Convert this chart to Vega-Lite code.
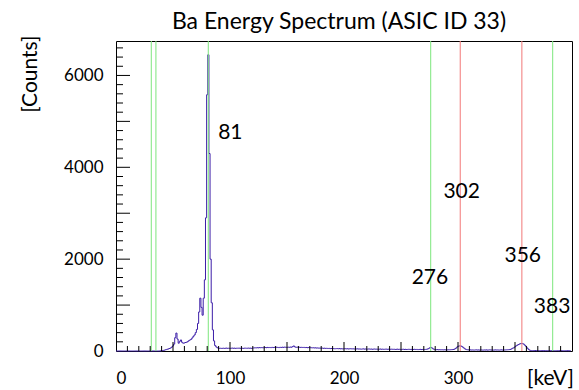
{
"$schema": "https://vega.github.io/schema/vega-lite/v6.json",
"width": 456, "height": 310,
"autosize": "none",
"padding": {"left": 116, "top": 41, "right": 7, "bottom": 39},
"background": "white",
"title": {"text": "Ba Energy Spectrum (ASIC ID 33)", "font": "Lato", "fontSize": 23, "fontWeight": "normal", "color": "#000", "anchor": "middle", "frame": "group", "dx": -5, "dy": 30, "offset": 8, "baseline": "bottom"},
"config": {
  "view": {"stroke": "#000", "strokeWidth": 1},
  "axis": {"grid": false, "domain": false, "labelFont": "Lato", "titleFont": "Lato", "labelColor": "#000", "titleColor": "#000", "labelFontSize": 17, "titleFontSize": 21, "titleFontWeight": "normal"}
},
"resolve": {"axis": {"x": "independent", "y": "independent"}},
"layer": [
{
  "data": {"values": [
{"e":0,"c":0},{"e":1,"c":0},{"e":2,"c":0},{"e":3,"c":0},{"e":4,"c":0},{"e":5,"c":0},{"e":6,"c":0},{"e":7,"c":0},{"e":8,"c":0},{"e":9,"c":0},
{"e":10,"c":0},{"e":11,"c":0},{"e":12,"c":0},{"e":13,"c":0},{"e":14,"c":0},{"e":15,"c":0},{"e":16,"c":0},{"e":17,"c":0},{"e":18,"c":0},{"e":19,"c":0},
{"e":20,"c":0},{"e":21,"c":0},{"e":22,"c":0},{"e":23,"c":0},{"e":24,"c":0},{"e":25,"c":0},{"e":26,"c":0},{"e":27,"c":0},{"e":28,"c":0},{"e":29,"c":0},
{"e":30,"c":0},{"e":31,"c":0},{"e":32,"c":0},{"e":33,"c":0},{"e":34,"c":0},{"e":35,"c":0},{"e":36,"c":0},{"e":37,"c":0},{"e":38,"c":0},{"e":39,"c":2},
{"e":40,"c":4},{"e":41,"c":8},{"e":42,"c":14},{"e":43,"c":22},{"e":44,"c":30},{"e":45,"c":38},{"e":46,"c":45},{"e":47,"c":55},{"e":48,"c":65},{"e":49,"c":85},
{"e":50,"c":110},{"e":51,"c":150},{"e":52,"c":290},{"e":53,"c":390},{"e":54,"c":260},{"e":55,"c":170},{"e":56,"c":210},{"e":57,"c":240},{"e":58,"c":190},{"e":59,"c":170},
{"e":60,"c":175},{"e":61,"c":185},{"e":62,"c":190},{"e":63,"c":205},{"e":64,"c":225},{"e":65,"c":240},{"e":66,"c":255},{"e":67,"c":285},{"e":68,"c":320},{"e":69,"c":350},
{"e":70,"c":400},{"e":71,"c":470},{"e":72,"c":600},{"e":73,"c":850},{"e":74,"c":1150},{"e":75,"c":950},{"e":76,"c":780},{"e":77,"c":1150},{"e":78,"c":1550},{"e":79,"c":2900},
{"e":80,"c":5580},{"e":81,"c":6450},{"e":82,"c":4300},{"e":83,"c":2000},{"e":84,"c":1050},{"e":85,"c":460},{"e":86,"c":220},{"e":87,"c":120},{"e":88,"c":90},{"e":89,"c":70},
{"e":90,"c":62},{"e":91,"c":58},{"e":92,"c":60},{"e":93,"c":55},{"e":94,"c":62},{"e":95,"c":57},{"e":96,"c":60},{"e":97,"c":63},{"e":98,"c":58},{"e":99,"c":61},
{"e":100,"c":56},{"e":101,"c":60},{"e":102,"c":64},{"e":103,"c":59},{"e":104,"c":62},{"e":105,"c":57},{"e":106,"c":61},{"e":107,"c":60},{"e":108,"c":63},{"e":109,"c":58},
{"e":110,"c":62},{"e":111,"c":60},{"e":112,"c":57},{"e":113,"c":63},{"e":114,"c":61},{"e":115,"c":59},{"e":116,"c":64},{"e":117,"c":60},{"e":118,"c":62},{"e":119,"c":58},
{"e":120,"c":65},{"e":121,"c":66},{"e":122,"c":70},{"e":123,"c":68},{"e":124,"c":72},{"e":125,"c":69},{"e":126,"c":74},{"e":127,"c":71},{"e":128,"c":75},{"e":129,"c":70},
{"e":130,"c":73},{"e":131,"c":76},{"e":132,"c":72},{"e":133,"c":78},{"e":134,"c":74},{"e":135,"c":77},{"e":136,"c":73},{"e":137,"c":79},{"e":138,"c":75},{"e":139,"c":80},
{"e":140,"c":76},{"e":141,"c":82},{"e":142,"c":78},{"e":143,"c":74},{"e":144,"c":80},{"e":145,"c":77},{"e":146,"c":83},{"e":147,"c":79},{"e":148,"c":85},{"e":149,"c":81},
{"e":150,"c":78},{"e":151,"c":84},{"e":152,"c":80},{"e":153,"c":86},{"e":154,"c":82},{"e":155,"c":95},{"e":156,"c":110},{"e":157,"c":90},{"e":158,"c":80},{"e":159,"c":84},
{"e":160,"c":79},{"e":161,"c":82},{"e":162,"c":78},{"e":163,"c":80},{"e":164,"c":76},{"e":165,"c":79},{"e":166,"c":74},{"e":167,"c":77},{"e":168,"c":72},{"e":169,"c":75},
{"e":170,"c":70},{"e":171,"c":73},{"e":172,"c":68},{"e":173,"c":71},{"e":174,"c":66},{"e":175,"c":69},{"e":176,"c":64},{"e":177,"c":67},{"e":178,"c":62},{"e":179,"c":65},
{"e":180,"c":60},{"e":181,"c":63},{"e":182,"c":58},{"e":183,"c":61},{"e":184,"c":56},{"e":185,"c":59},{"e":186,"c":54},{"e":187,"c":57},{"e":188,"c":52},{"e":189,"c":55},
{"e":190,"c":50},{"e":191,"c":53},{"e":192,"c":48},{"e":193,"c":51},{"e":194,"c":54},{"e":195,"c":49},{"e":196,"c":52},{"e":197,"c":47},{"e":198,"c":50},{"e":199,"c":45},
{"e":200,"c":48},{"e":201,"c":51},{"e":202,"c":46},{"e":203,"c":49},{"e":204,"c":44},{"e":205,"c":47},{"e":206,"c":50},{"e":207,"c":45},{"e":208,"c":48},{"e":209,"c":43},
{"e":210,"c":46},{"e":211,"c":44},{"e":212,"c":47},{"e":213,"c":42},{"e":214,"c":45},{"e":215,"c":40},{"e":216,"c":43},{"e":217,"c":46},{"e":218,"c":41},{"e":219,"c":44},
{"e":220,"c":39},{"e":221,"c":42},{"e":222,"c":45},{"e":223,"c":40},{"e":224,"c":43},{"e":225,"c":38},{"e":226,"c":41},{"e":227,"c":44},{"e":228,"c":39},{"e":229,"c":42},
{"e":230,"c":37},{"e":231,"c":40},{"e":232,"c":43},{"e":233,"c":38},{"e":234,"c":41},{"e":235,"c":36},{"e":236,"c":39},{"e":237,"c":42},{"e":238,"c":37},{"e":239,"c":40},
{"e":240,"c":35},{"e":241,"c":38},{"e":242,"c":41},{"e":243,"c":36},{"e":244,"c":39},{"e":245,"c":34},{"e":246,"c":37},{"e":247,"c":40},{"e":248,"c":35},{"e":249,"c":38},
{"e":250,"c":33},{"e":251,"c":36},{"e":252,"c":39},{"e":253,"c":34},{"e":254,"c":37},{"e":255,"c":32},{"e":256,"c":35},{"e":257,"c":38},{"e":258,"c":33},{"e":259,"c":36},
{"e":260,"c":31},{"e":261,"c":34},{"e":262,"c":37},{"e":263,"c":32},{"e":264,"c":35},{"e":265,"c":30},{"e":266,"c":33},{"e":267,"c":36},{"e":268,"c":31},{"e":269,"c":34},
{"e":270,"c":32},{"e":271,"c":33},{"e":272,"c":35},{"e":273,"c":40},{"e":274,"c":50},{"e":275,"c":65},{"e":276,"c":80},{"e":277,"c":70},{"e":278,"c":50},{"e":279,"c":38},
{"e":280,"c":32},{"e":281,"c":28},{"e":282,"c":30},{"e":283,"c":26},{"e":284,"c":29},{"e":285,"c":25},{"e":286,"c":28},{"e":287,"c":24},{"e":288,"c":27},{"e":289,"c":25},
{"e":290,"c":28},{"e":291,"c":24},{"e":292,"c":27},{"e":293,"c":26},{"e":294,"c":29},{"e":295,"c":30},{"e":296,"c":34},{"e":297,"c":40},{"e":298,"c":55},{"e":299,"c":80},
{"e":300,"c":100},{"e":301,"c":110},{"e":302,"c":112},{"e":303,"c":105},{"e":304,"c":90},{"e":305,"c":70},{"e":306,"c":50},{"e":307,"c":35},{"e":308,"c":28},{"e":309,"c":25},
{"e":310,"c":22},{"e":311,"c":24},{"e":312,"c":21},{"e":313,"c":23},{"e":314,"c":20},{"e":315,"c":22},{"e":316,"c":25},{"e":317,"c":21},{"e":318,"c":23},{"e":319,"c":20},
{"e":320,"c":24},{"e":321,"c":22},{"e":322,"c":19},{"e":323,"c":23},{"e":324,"c":21},{"e":325,"c":24},{"e":326,"c":20},{"e":327,"c":22},{"e":328,"c":25},{"e":329,"c":21},
{"e":330,"c":23},{"e":331,"c":20},{"e":332,"c":22},{"e":333,"c":24},{"e":334,"c":21},{"e":335,"c":23},{"e":336,"c":20},{"e":337,"c":22},{"e":338,"c":25},{"e":339,"c":21},
{"e":340,"c":23},{"e":341,"c":22},{"e":342,"c":24},{"e":343,"c":26},{"e":344,"c":28},{"e":345,"c":30},{"e":346,"c":35},{"e":347,"c":45},{"e":348,"c":60},{"e":349,"c":70},
{"e":350,"c":90},{"e":351,"c":110},{"e":352,"c":125},{"e":353,"c":140},{"e":354,"c":152},{"e":355,"c":160},{"e":356,"c":165},{"e":357,"c":158},{"e":358,"c":145},{"e":359,"c":120},
{"e":360,"c":90},{"e":361,"c":60},{"e":362,"c":35},{"e":363,"c":18},{"e":364,"c":10},{"e":365,"c":8},{"e":366,"c":8},{"e":367,"c":7},{"e":368,"c":9},{"e":369,"c":6},
{"e":370,"c":8},{"e":371,"c":7},{"e":372,"c":6},{"e":373,"c":8},{"e":374,"c":7},{"e":375,"c":5},{"e":376,"c":7},{"e":377,"c":6},{"e":378,"c":8},{"e":379,"c":5},
{"e":380,"c":7},{"e":381,"c":6},{"e":382,"c":5},{"e":383,"c":7},{"e":384,"c":6},{"e":385,"c":5},{"e":386,"c":6},{"e":387,"c":7},{"e":388,"c":5},{"e":389,"c":6},
{"e":390,"c":5},{"e":391,"c":7},{"e":392,"c":6},{"e":393,"c":5},{"e":394,"c":6},{"e":395,"c":5},{"e":396,"c":6},{"e":397,"c":5},{"e":398,"c":6},{"e":399,"c":5}
  ]},
  "mark": {"type": "line", "interpolate": "step", "color": "#3c1ea8", "strokeWidth": 1},
  "encoding": {
    "x": {"field": "e", "type": "quantitative", "scale": {"domain": [0, 400], "nice": false, "zero": false},
      "axis": {"orient": "bottom", "values": [0, 100, 200, 300], "format": "d", "ticks": false, "labelPadding": 27, "labelBaseline": "middle", "labelFlush": true, "title": "[keV]", "titleX": 434, "titleY": 27, "titleBaseline": "middle", "titleAlign": "center"}},
    "y": {"field": "c", "type": "quantitative", "scale": {"domain": [0, 6750], "nice": false},
      "axis": {"orient": "left", "values": [0, 2000, 4000, 6000], "format": "d", "ticks": false, "labelPadding": 13, "title": "[Counts]", "titleX": -86, "titleY": -6, "titleAngle": -90, "titleAlign": "right", "titleBaseline": "middle"}}
  }
},
{
  "data": {"values": [
    {"e": 31, "k": "g"}, {"e": 35, "k": "g"}, {"e": 81, "k": "g"}, {"e": 276, "k": "g"},
    {"e": 302, "k": "r"}, {"e": 356, "k": "r"}, {"e": 383, "k": "g"}
  ]},
  "mark": {"type": "rule", "strokeWidth": 1.2, "opacity": 0.85},
  "encoding": {
    "x": {"field": "e", "type": "quantitative", "scale": {"domain": [0, 400], "nice": false, "zero": false}, "axis": null},
    "y": {"datum": 0, "type": "quantitative", "scale": {"domain": [0, 6750], "nice": false}, "axis": null},
    "y2": {"datum": 6750},
    "color": {"field": "k", "type": "nominal", "scale": {"domain": ["g", "r"], "range": ["#7fe67f", "#f27a7a"]}, "legend": null}
  }
},
{
  "data": {"values": [
    {"e": 100.3, "c": 4743, "t": "81"},
    {"e": 303.2, "c": 3470, "t": "302"},
    {"e": 275.4, "c": 1584, "t": "276"},
    {"e": 356.8, "c": 2070, "t": "356"},
    {"e": 382.5, "c": 965, "t": "383"}
  ]},
  "mark": {"type": "text", "font": "Lato", "fontSize": 21, "align": "center", "baseline": "middle", "color": "#000"},
  "encoding": {
    "x": {"field": "e", "type": "quantitative", "scale": {"domain": [0, 400], "nice": false, "zero": false}, "axis": null},
    "y": {"field": "c", "type": "quantitative", "scale": {"domain": [0, 6750], "nice": false}, "axis": null},
    "text": {"field": "t", "type": "nominal"}
  }
},
{
  "data": {"values": [
    {"e":10},{"e":20},{"e":30},{"e":40},{"e":60},{"e":70},{"e":80},{"e":90},{"e":110},{"e":120},{"e":130},{"e":140},
    {"e":160},{"e":170},{"e":180},{"e":190},{"e":210},{"e":220},{"e":230},{"e":240},{"e":260},{"e":270},{"e":280},{"e":290},
    {"e":310},{"e":320},{"e":330},{"e":340},{"e":360},{"e":370},{"e":380},{"e":390}
  ]},
  "mark": {"type": "tick", "orient": "vertical", "size": 5, "thickness": 1, "color": "#000", "opacity": 1, "yOffset": -2.5},
  "encoding": {
    "x": {"field": "e", "type": "quantitative", "scale": {"domain": [0, 400], "nice": false, "zero": false}, "axis": null},
    "y": {"datum": 0, "type": "quantitative", "scale": {"domain": [0, 6750], "nice": false}, "axis": null}
  }
},
{
  "data": {"values": [
    {"e":50},{"e":100},{"e":150},{"e":200},{"e":250},{"e":300},{"e":350}
  ]},
  "mark": {"type": "tick", "orient": "vertical", "size": 9, "thickness": 1, "color": "#000", "opacity": 1, "yOffset": -4.5},
  "encoding": {
    "x": {"field": "e", "type": "quantitative", "scale": {"domain": [0, 400], "nice": false, "zero": false}, "axis": null},
    "y": {"datum": 0, "type": "quantitative", "scale": {"domain": [0, 6750], "nice": false}, "axis": null}
  }
},
{
  "data": {"values": [
    {"c":200},{"c":400},{"c":600},{"c":800},{"c":1200},{"c":1400},{"c":1600},{"c":1800},{"c":2200},{"c":2400},{"c":2600},{"c":2800},
    {"c":3200},{"c":3400},{"c":3600},{"c":3800},{"c":4200},{"c":4400},{"c":4600},{"c":4800},{"c":5200},{"c":5400},{"c":5600},{"c":5800},
    {"c":6200},{"c":6400},{"c":6600}
  ]},
  "mark": {"type": "tick", "orient": "horizontal", "size": 7, "thickness": 1, "color": "#000", "opacity": 1, "xOffset": 3.5},
  "encoding": {
    "y": {"field": "c", "type": "quantitative", "scale": {"domain": [0, 6750], "nice": false}, "axis": null},
    "x": {"datum": 0, "type": "quantitative", "scale": {"domain": [0, 400], "nice": false, "zero": false}, "axis": null}
  }
},
{
  "data": {"values": [
    {"c":1000},{"c":2000},{"c":3000},{"c":4000},{"c":5000},{"c":6000}
  ]},
  "mark": {"type": "tick", "orient": "horizontal", "size": 14, "thickness": 1, "color": "#000", "opacity": 1, "xOffset": 7},
  "encoding": {
    "y": {"field": "c", "type": "quantitative", "scale": {"domain": [0, 6750], "nice": false}, "axis": null},
    "x": {"datum": 0, "type": "quantitative", "scale": {"domain": [0, 400], "nice": false, "zero": false}, "axis": null}
  }
}
]
}
